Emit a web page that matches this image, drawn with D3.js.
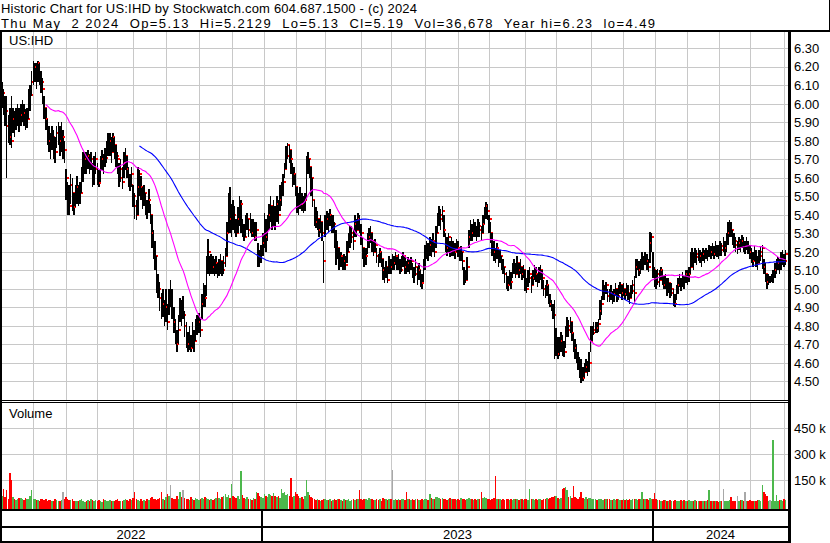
<!DOCTYPE html>
<html><head><meta charset="utf-8">
<script src="https://cdn.jsdelivr.net/npm/d3@7"></script>
<style>html,body{margin:0;padding:0;background:#fff;}svg{display:block;font-family:"Liberation Sans",Arial,sans-serif;}</style>
</head><body><svg id="c" width="830" height="543"></svg>
<script>
const titleLine = "Historic Chart for US:IHD by Stockwatch.com 604.687.1500 - (c) 2024";
const infoLine = "Thu May  2 2024  Op=5.13  Hi=5.2129  Lo=5.13  Cl=5.19  Vol=36,678  Year hi=6.23  lo=4.49";
const symbol = "US:IHD";
const volumeLabel = "Volume";
const startDate = "2022-05-02", endDate = "2024-05-02";
const holidays = ["2022-05-30","2022-06-20","2022-07-04","2022-09-05","2022-11-24","2022-12-26",
 "2023-01-02","2023-01-16","2023-02-20","2023-04-07","2023-05-29","2023-06-19","2023-07-04","2023-09-04","2023-11-23","2023-12-25",
 "2024-01-01","2024-01-15","2024-02-19","2024-03-29"];
const priorClose = 610; // cents
// daily closes, highs, lows in cents
const closes = [
603,606,600,596,588,585,582,580,592,588, 592,596,590,594,598,595,590,592,600,605,
612,618,620,614,622,617,612,608,598,592, 585,580,576,582,578,574,584,586,580,582,
582,575,560,548,545,556,552,544,550,555, 548,552,560,566,570,568,572,568,570,562,
565,570,562,557,566,570,568,571,575,578, 580,574,582,578,572,570,560,565,558,568,
572,565,560,556,562,550,545,540,555,562, 555,548,552,545,542,548,540,530,522,518,
505,500,495,488,492,485,490,482,494,494, 488,482,475,470,478,490,486,486,480,475,
470,474,468,476,472,478,480,482,478,492, 498,495,512,520,510,516,512,510,514,508,
512,515,510,514,518,530,545,538,542,540, 535,530,538,542,546,530,528,534,538,532,
536,530,534,528,532,518,515,520,525,532, 528,535,540,545,536,542,538,546,540,548,
552,558,565,572,578,575,570,560,562,555, 548,545,550,546,544,548,565,570,566,560,
548,540,536,538,532,536,530,515,535,538, 536,540,534,535,530,520,522,515,518,512,
515,513,520,525,528,530,526,535,532,538, 534,530,522,515,518,525,528,530,526,520,
524,518,515,520,516,510,508,512,505,515, 512,512,514,518,512,515,510,514,518,512,
510,514,512,515,510,508,512,506,510,505, 503,512,518,522,520,524,522,526,520,530,
535,540,538,542,532,525,522,528,520,524, 522,520,525,522,518,520,515,508,505,512,
528,532,530,535,532,530,534,532,530,535, 540,545,542,538,530,525,520,518,522,516,
518,514,512,508,505,502,506,504,510,512, 508,514,510,512,508,510,504,500,506,508,
502,506,510,508,505,508,510,506,500,498, 502,496,492,490,486,466,470,465,468,472,
468,466,476,480,478,482,476,470,468,462, 460,458,456,452,455,458,456,460,472,476,
478,480,479,481,488,492,500,498,502,496, 495,498,494,497,500,496,499,502,498,500,
497,501,498,495,499,502,498,512,514,510, 512,516,514,518,515,512,525,528,510,506,
504,508,505,510,506,502,505,500,503,498, 500,495,492,498,502,505,502,506,504,508,
505,508,512,518,515,519,517,520,518,516, 519,517,520,518,521,520,522,519,523,521,
520,523,521,521,522,526,530,534,532,528, 526,524,524,525,523,526,524,524,525,522,
520,518,515,520,517,514,518,520,522,512, 508,504,505,505,506,508,510,512,514,512,
516,518,515,519];
const highs = [
610,612,608,604,604,594,598,604,598,596, 598,600,598,600,602,600,597,598,608,610,
618,623,622,622,623,622,618,614,604,598, 592,588,584,588,586,582,588,590,588,590,
586,580,565,558,556,562,560,552,556,561, 556,558,566,574,574,574,575,573,574,568,
572,574,568,564,572,575,573,576,580,584, 584,582,584,582,578,574,568,570,566,574,
576,572,566,562,566,556,552,548,566,564, 561,555,556,552,548,554,546,540,532,526,
518,508,504,498,500,494,500,492,500,505, 500,490,484,478,486,495,494,496,488,482,
477,480,475,482,478,484,486,487,484,497, 503,502,518,527,518,519,518,516,518,514,
516,519,515,518,522,536,552,555,546,548, 545,538,544,550,548,538,535,540,541,538,
541,538,538,536,536,525,521,524,530,541, 538,540,546,550,545,548,545,550,548,556,
558,562,568,577,579,578,575,568,566,562, 555,552,555,552,550,552,572,574,570,566,
560,548,544,542,538,540,536,526,540,542, 541,543,540,540,536,532,526,522,520,517,
519,518,526,530,534,534,532,540,538,541, 540,535,528,522,522,530,533,534,530,526,
527,522,519,522,520,516,512,515,512,518, 516,519,518,520,517,519,516,518,520,517,
515,517,516,517,514,512,516,512,514,510, 508,516,524,526,525,528,527,530,525,534,
541,545,543,545,540,530,528,530,526,528, 526,525,527,526,522,523,520,512,510,517,
532,537,535,538,536,534,538,536,534,540, 544,547,546,540,536,530,526,522,525,521,
521,518,516,512,509,507,510,509,514,516, 514,518,514,516,512,513,510,506,510,512,
507,510,513,512,508,512,513,510,505,502, 505,502,497,494,492,494,479,474,474,477,
475,472,480,485,483,485,482,476,473,470, 466,463,462,458,460,462,461,466,480,480,
482,482,482,484,494,496,505,502,504,500, 500,502,499,500,503,500,502,504,502,503,
500,503,502,498,502,505,507,516,516,515, 516,520,518,520,519,516,531,530,520,512,
510,511,510,512,510,507,508,506,506,503, 503,500,497,502,506,508,506,509,507,510,
510,512,520,522,520,522,521,522,521,520, 522,521,522,521,524,523,525,523,526,524,
524,526,525,528,526,530,536,537,536,532, 530,528,526,528,527,529,528,526,528,526,
524,522,520,523,521,518,521,523,524,516, 514,508,508,507,508,510,514,516,517,516,
520,521,519,521];
const lows = [
598,598,594,588,560,579,578,576,584,582, 586,588,585,588,590,588,586,587,592,596,
604,610,612,608,612,610,606,600,592,586, 578,574,570,575,570,568,576,578,572,574,
570,568,548,540,540,546,542,540,544,546, 545,546,552,558,562,562,565,562,564,555,
556,562,556,555,558,564,562,566,568,572, 572,568,574,570,566,562,555,558,554,560,
564,560,555,553,555,544,538,537,540,550, 548,543,545,540,538,541,535,522,516,510,
498,495,488,484,485,480,482,478,486,490, 484,476,470,466,470,482,480,484,474,468,
466,467,466,468,466,472,475,476,474,484, 490,490,496,508,507,508,508,507,508,506,
507,508,507,508,512,518,530,530,528,532, 530,528,530,534,530,528,526,528,532,528,
530,528,528,526,526,512,512,514,518,522, 520,526,532,536,532,534,532,536,535,542,
545,550,560,565,570,568,562,555,556,550, 541,540,543,542,541,542,548,562,560,550,
544,534,533,532,528,530,526,503,528,532, 531,534,530,530,522,513,516,510,512,510,
510,510,514,520,522,525,521,528,528,532, 530,524,516,512,513,519,522,525,520,518,
520,514,512,514,512,505,503,506,503,508, 508,510,510,513,510,510,508,509,512,508,
508,509,508,510,506,503,507,502,505,501, 500,504,510,516,515,518,517,520,517,522,
530,534,532,536,528,520,518,520,517,518, 518,516,520,517,515,515,510,502,503,505,
522,526,526,528,528,526,528,528,526,530, 535,538,537,530,525,518,515,514,516,512,
514,510,508,503,500,499,502,500,506,508, 506,508,506,508,505,506,499,498,501,503,
498,502,505,504,501,503,505,500,496,495, 496,492,490,488,484,462,464,462,464,466,
464,463,468,474,474,476,472,466,462,460, 456,452,449,450,452,455,453,455,466,472,
475,476,476,477,483,486,494,494,497,493, 493,494,492,493,496,493,494,497,494,496,
494,496,494,492,495,497,492,506,510,507, 508,510,510,513,510,509,514,520,506,501,
500,502,501,505,502,500,500,496,498,495, 496,491,490,494,497,501,499,501,500,503,
502,504,508,512,510,514,513,515,514,512, 515,514,516,515,517,516,518,516,518,517,
516,518,518,520,518,520,524,528,528,524, 522,520,519,521,520,522,520,519,521,519,
516,514,512,515,512,510,514,515,511,508, 504,500,502,503,504,503,506,508,510,508,
510,513,512,513];
// daily volume, thousands of shares
const volumes = [
520,60,100,55,95,45,192,150,55,40, 35,45,50,48,40,35,50,45,40,60,
95,45,40,35,38,30,45,40,35,42, 30,38,35,28,32,40,36,30,28,35,
85,40,55,45,38,35,42,30,28,33, 30,35,45,28,25,32,38,30,42,36,
28,35,30,38,32,26,40,35,30,28, 35,32,28,30,38,45,33,30,28,35,
40,36,30,45,38,50,80,45,38,30, 40,32,35,28,42,35,48,55,40,45,
38,42,50,80,45,38,55,70,60,123, 50,45,40,60,45,85,55,95,50,40,
45,38,55,42,35,48,40,38,45,50, 40,55,48,42,35,40,38,45,50,85,
48,42,55,60,70,55,65,50,127,60, 55,50,60,45,204,65,48,40,55,45,
42,38,50,45,85,75,60,55,48,72, 60,55,70,65,58,75,62,55,60,50,
100,75,80,65,70,60,165,55,60,80, 70,60,50,55,45,60,150,80,65,55,
48,42,35,40,38,30,35,45,40,38, 35,40,30,38,42,35,45,40,38,33,
40,35,38,42,30,36,40,38,45,40, 95,45,38,42,40,35,50,45,40,38,
35,42,38,40,33,48,45,40,38,42, 40,210,35,40,38,45,35,40,42,38,
85,45,40,38,42,36,40,45,38,35, 40,38,45,42,35,70,48,40,45,52,
55,48,42,50,45,40,38,45,50,42, 45,40,38,42,35,50,40,45,38,42,
48,45,40,38,42,35,45,40,85,48, 55,50,45,40,38,42,50,177,45,40,
42,38,40,35,45,40,38,42,36,40, 45,40,38,42,40,35,45,40,38,100,
45,40,38,42,35,40,45,38,40,42, 48,45,50,55,52,60,60,48,45,50,
100,105,110,95,55,60,48,115,55,50, 45,55,80,50,45,55,40,50,48,45,
42,40,38,45,42,40,38,45,40,42, 40,38,35,42,38,40,45,38,35,40,
38,42,35,40,38,45,40,42,38,45, 40,80,45,40,42,38,48,45,40,75,
40,35,38,32,30,35,38,30,32,35, 30,32,35,30,28,32,35,30,38,33,
30,35,32,28,30,35,32,30,28,32, 30,28,32,35,95,30,28,32,30,28,
25,28,30,100,32,28,30,35,55,30, 28,32,60,30,35,38,32,85,30,28,
35,30,28,32,30,35,38,32,125,80, 70,60,30,35,28,383,32,65,28,35,
38,30,42,37];
const priceTicks = [4.5,4.6,4.7,4.8,4.9,5.0,5.1,5.2,5.3,5.4,5.5,5.6,5.7,5.8,5.9,6.0,6.1,6.2,6.3];
const volumeTicks = [150,300,450];
const maFastLen = 30, maSlowLen = 90;

// ---- layout ----
const W = 830, H = 543;
const plotL = 2, plotR = 788;
const priceTop = 32, priceBot = 400;
const volTop = 402, volBot = 509;
const bandMid = 527, bandBot = 541;

const svg = d3.select("#c");
svg.append("rect").attr("width", W).attr("height", H).attr("fill", "#fff");

// trading calendar
const fmt = d3.utcFormat("%Y-%m-%d");
const hol = new Set(holidays);
const dates = [];
for (let d = d3.utcParse("%Y-%m-%d")(startDate); d <= d3.utcParse("%Y-%m-%d")(endDate); d = d3.utcDay.offset(d, 1)) {
  const wd = d.getUTCDay();
  if (wd === 0 || wd === 6 || hol.has(fmt(d))) continue;
  dates.push(d);
}
const n = Math.min(dates.length, closes.length);

const x = d3.scaleLinear().domain([0, 503]).range([0.5, 785.7]);
const y = d3.scaleLinear().domain([4.4, 6.3]).range([priceBot, 48.3]);
const yv = d3.scaleLinear().domain([0, 450]).range([506.3, 428.3]);

const grid = "#c8c8c8";
// month boundaries
const monthIdx = [];
for (let i = 1; i < n; i++) if (dates[i].getUTCMonth() !== dates[i-1].getUTCMonth()) monthIdx.push(i);
const yearIdx = monthIdx.filter(i => dates[i].getUTCFullYear() !== dates[i-1].getUTCFullYear());

const g = svg.append("g").attr("shape-rendering", "crispEdges");
g.selectAll(".hp").data(priceTicks).join("line")
  .attr("x1", plotL).attr("x2", plotR).attr("y1", d => Math.round(y(d)) + 0.5).attr("y2", d => Math.round(y(d)) + 0.5)
  .attr("stroke", grid);
g.selectAll(".hv").data(volumeTicks).join("line")
  .attr("x1", plotL).attr("x2", plotR).attr("y1", d => Math.round(yv(d)) + 0.5).attr("y2", d => Math.round(yv(d)) + 0.5)
  .attr("stroke", grid);
g.selectAll(".vp").data(monthIdx).join("line")
  .attr("x1", i => Math.round(x(i)) + 0.5).attr("x2", i => Math.round(x(i)) + 0.5)
  .attr("y1", priceTop).attr("y2", priceBot).attr("stroke", grid);
g.selectAll(".vv").data(monthIdx).join("line")
  .attr("x1", i => Math.round(x(i)) + 0.5).attr("x2", i => Math.round(x(i)) + 0.5)
  .attr("y1", volTop).attr("y2", volBot).attr("stroke", grid);

// volume bars
const idx = d3.range(n);
const volColor = i => {
  const prev = i === 0 ? priorClose : closes[i-1];
  return closes[i] > prev ? "#4cb84c" : closes[i] < prev ? "#ff0000" : "#a8a8a8";
};
svg.append("g").attr("shape-rendering", "crispEdges").selectAll("rect").data(idx).join("rect")
  .attr("x", i => x(i) - 0.75).attr("width", 1.5)
  .attr("y", i => yv(volumes[i])).attr("height", i => volBot - yv(volumes[i]))
  .attr("fill", volColor);

// price bars: each bar drawn with its close tick, the next bar overlapping it
svg.append("defs").append("clipPath").attr("id", "pc").append("rect")
  .attr("x", plotL).attr("y", priceTop).attr("width", plotR - plotL).attr("height", priceBot - priceTop);
const pg = svg.append("g").attr("clip-path", "url(#pc)");
const bars = pg.append("g").attr("shape-rendering", "crispEdges").selectAll("g").data(idx).join("g");
bars.append("rect")
  .attr("x", i => x(i) - 0.75).attr("width", 1.5)
  .attr("y", i => y(highs[i] / 100)).attr("height", i => Math.max(1, y(lows[i] / 100) - y(highs[i] / 100)))
  .attr("fill", "#000");
bars.append("rect")
  .attr("x", i => x(i) + 0.5).attr("width", 2)
  .attr("y", i => y(closes[i] / 100) - 1).attr("height", 2)
  .attr("fill", "#ff0000");

// moving averages
function sma(len) {
  const out = [];
  for (let i = len - 1; i < n; i++) out.push([i, d3.mean(closes.slice(i - len + 1, i + 1)) / 100]);
  return out;
}
const line = d3.line().x(d => x(d[0])).y(d => y(d[1]));
pg.append("path").attr("d", line(sma(maSlowLen))).attr("fill", "none").attr("stroke", "#0000ff").attr("stroke-width", 1.1);
pg.append("path").attr("d", line(sma(maFastLen))).attr("fill", "none").attr("stroke", "#ff00ff").attr("stroke-width", 1.1);

// frame
const f = svg.append("g").attr("shape-rendering", "crispEdges").attr("stroke", "#000");
f.append("line").attr("x1", 0).attr("x2", W).attr("y1", 31).attr("y2", 31).attr("stroke-width", 2);
f.append("line").attr("x1", 829).attr("x2", 829).attr("y1", 0).attr("y2", 31).attr("stroke-width", 1);
f.append("line").attr("x1", 1).attr("x2", 1).attr("y1", 31).attr("y2", H).attr("stroke-width", 2);
f.append("line").attr("x1", 789).attr("x2", 789).attr("y1", 31).attr("y2", H).attr("stroke-width", 3);
f.append("line").attr("x1", 0).attr("x2", plotR).attr("y1", 400.5).attr("y2", 400.5).attr("stroke-width", 1);
f.append("line").attr("x1", 0).attr("x2", plotR).attr("y1", 402.5).attr("y2", 402.5).attr("stroke-width", 1);
f.append("line").attr("x1", 0).attr("x2", plotR).attr("y1", 510).attr("y2", 510).attr("stroke-width", 2);
f.append("line").attr("x1", 0).attr("x2", plotR).attr("y1", bandMid).attr("y2", bandMid).attr("stroke-width", 2);
f.append("line").attr("x1", 0).attr("x2", plotR).attr("y1", bandBot + 1).attr("y2", bandBot + 1).attr("stroke-width", 2);
f.selectAll(".ys").data(yearIdx).join("line")
  .attr("x1", i => Math.round(x(i)) - 2).attr("x2", i => Math.round(x(i)) - 2)
  .attr("y1", 510).attr("y2", bandBot + 1).attr("stroke-width", 2);

// year labels
const bounds = [0, ...yearIdx.map(i => Math.round(x(i)) - 2), plotR];
const years = [dates[0].getUTCFullYear(), ...yearIdx.map(i => dates[i].getUTCFullYear())];
svg.append("g").selectAll("text").data(years).join("text")
  .attr("x", (d, k) => (bounds[k] + bounds[k+1]) / 2).attr("y", 539)
  .attr("text-anchor", "middle").attr("font-size", 13).attr("fill", "#000").text(d => d);

// axes
const ax = svg.append("g").attr("transform", `translate(${plotR},0)`)
  .call(d3.axisRight(y).tickValues(priceTicks).tickFormat(d3.format(".2f")).tickSize(0).tickPadding(6));
const axv = svg.append("g").attr("transform", `translate(${plotR},0)`)
  .call(d3.axisRight(yv).tickValues(volumeTicks).tickFormat(d => d + " k").tickSize(0).tickPadding(6));
[ax, axv].forEach(a => {
  a.select(".domain").remove();
  a.attr("font-family", '"Liberation Sans",Arial,sans-serif').attr("font-size", 13);
  a.selectAll("text").attr("fill", "#000");
});

// titles
const t = svg.append("g").attr("font-size", 13).attr("fill", "#000");
t.append("text").attr("x", 1).attr("y", 13).attr("xml:space", "preserve").style("white-space", "pre")
  .attr("textLength", 416).attr("lengthAdjust", "spacing").text(titleLine);
t.append("text").attr("x", 1).attr("y", 28).attr("xml:space", "preserve").style("white-space", "pre")
  .attr("textLength", 654).attr("lengthAdjust", "spacing").text(infoLine);
t.append("text").attr("x", 9).attr("y", 45).text(symbol);
t.append("text").attr("x", 9).attr("y", 418).text(volumeLabel);
</script></body></html>
